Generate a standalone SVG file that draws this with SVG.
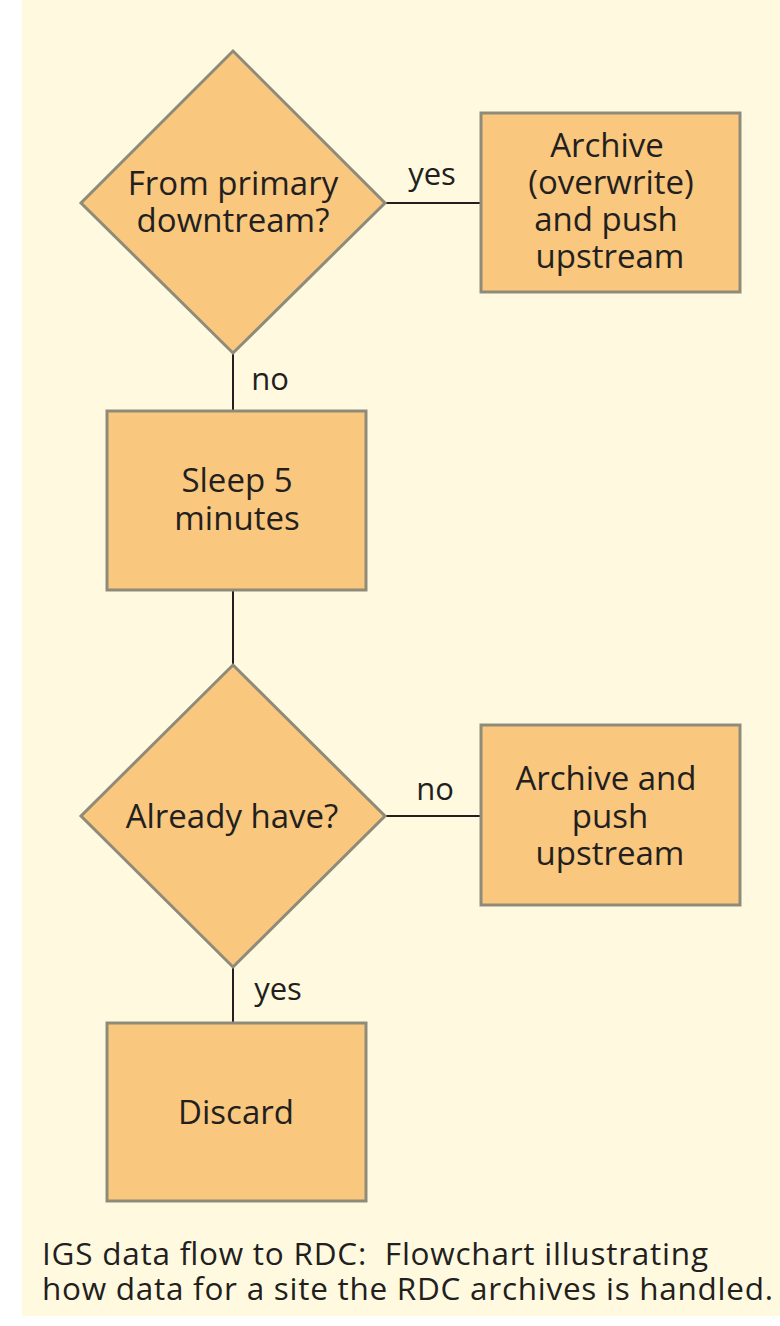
<svg xmlns="http://www.w3.org/2000/svg" width="780" height="1326" viewBox="0 0 780 1326">
  <style>
    .shape { fill: #f9c77d; stroke: #8f8b7a; stroke-width: 3; }
    .label { font-family: "Open Sans", "Noto Sans", sans-serif; font-size: 33px; fill: #231f20; text-anchor: middle; }
    .edge-label { font-family: "Open Sans", "Noto Sans", sans-serif; font-size: 31px; fill: #231f20; text-anchor: middle; }
    .edge { stroke: #231f20; stroke-width: 2; fill: none; }
    .caption { font-family: "Open Sans", "Noto Sans", sans-serif; font-size: 31.5px; fill: #231f20; }
  </style>
  <rect x="0" y="0" width="780" height="1326" fill="#ffffff"/>
  <rect x="22" y="0" width="758" height="1316" fill="#fffadf"/>

  <g id="connectors">
    <line class="edge" x1="385" y1="203" x2="481" y2="203"/>
    <line class="edge" x1="233" y1="353" x2="233" y2="410"/>
    <line class="edge" x1="233" y1="591" x2="233" y2="665"/>
    <line class="edge" x1="385" y1="816" x2="481" y2="816"/>
    <line class="edge" x1="233" y1="967" x2="233" y2="1022"/>
    <text class="edge-label" x="432" y="185">yes</text>
    <text class="edge-label" x="270" y="390">no</text>
    <text class="edge-label" x="435" y="800">no</text>
    <text class="edge-label" x="278" y="1000">yes</text>
  </g>

  <g id="decision-primary">
    <polygon class="shape" points="233,51 385,203 233,353 81,203"/>
    <text class="label" x="233" y="195">From primary</text>
    <text class="label" x="233" y="232">downtream?</text>
  </g>

  <g id="archive-overwrite">
    <rect class="shape" x="481" y="113" width="259" height="179"/>
    <text class="label" x="607" y="157">Archive</text>
    <text class="label" x="611" y="194">(overwrite)</text>
    <text class="label" x="606" y="231">and push</text>
    <text class="label" x="610" y="268">upstream</text>
  </g>

  <g id="sleep">
    <rect class="shape" x="107" y="411" width="259" height="179"/>
    <text class="label" x="237" y="492">Sleep 5</text>
    <text class="label" x="237" y="530">minutes</text>
  </g>

  <g id="decision-have">
    <polygon class="shape" points="233,665 385,816 233,967 81,816"/>
    <text class="label" x="232" y="828">Already have?</text>
  </g>

  <g id="archive-push">
    <rect class="shape" x="481" y="725" width="259" height="180"/>
    <text class="label" x="606" y="790">Archive and</text>
    <text class="label" x="610" y="828">push</text>
    <text class="label" x="610" y="865">upstream</text>
  </g>

  <g id="discard">
    <rect class="shape" x="107" y="1023" width="259" height="178"/>
    <text class="label" x="236" y="1124">Discard</text>
  </g>

  <g id="caption">
    <text class="caption" x="42" y="1265" textLength="666" lengthAdjust="spacing">IGS data flow to RDC:&#160; Flowchart illustrating</text>
    <text class="caption" x="42" y="1300" textLength="731" lengthAdjust="spacing">how data for a site the RDC archives is handled.</text>
  </g>
</svg>
